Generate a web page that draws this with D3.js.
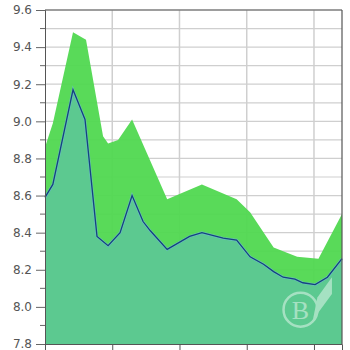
<!DOCTYPE html>
<html><head><meta charset="utf-8">
<script src="https://cdn.jsdelivr.net/npm/d3@7"></script>
<style>html,body{margin:0;padding:0;background:#fff;}</style>
</head><body><svg id="c" width="350" height="350"></svg>
<script>
// x positions (arbitrary time units)
const upperX = [0, 0.7, 2.5, 3.66, 5.18, 5.63, 6.52, 7.77, 10.9, 14.0, 17.1, 18.3, 20.4, 22.5, 24.4, 26.5];
const upperY = [8.86, 8.99, 9.48, 9.44, 8.92, 8.88, 8.90, 9.01, 8.58, 8.66, 8.58, 8.51, 8.32, 8.27, 8.26, 8.50];
const lowerX = [0, 0.7, 2.5, 3.57, 4.64, 5.63, 6.7, 7.77, 8.75, 9.4, 10.9, 12.9, 14.0, 15.9, 17.1, 18.3, 19.5, 20.4, 21.25, 22.3, 23.0, 24.1, 25.2, 26.5];
const lowerY = [8.59, 8.66, 9.17, 9.01, 8.38, 8.33, 8.40, 8.60, 8.46, 8.41, 8.31, 8.38, 8.40, 8.37, 8.36, 8.27, 8.23, 8.19, 8.16, 8.15, 8.13, 8.12, 8.16, 8.26];
const yTicks = [7.8, 8.0, 8.2, 8.4, 8.6, 8.8, 9.0, 9.2, 9.4, 9.6];
const xTicks = [0, 6, 12, 18, 24];

const svg = d3.select("#c");
const L = 45, R = 342, T = 10, B = 344;
const x = d3.scaleLinear().domain([0, 26.5]).range([L, R]);
const y = d3.scaleLinear().domain([7.8, 9.6]).range([B, T]);
const minor = d3.range(78, 97).map(v => v / 10);

// gridlines
svg.append("g").selectAll("line").data(minor).join("line")
  .attr("x1", L).attr("x2", R).attr("y1", d => y(d)).attr("y2", d => y(d))
  .attr("stroke", "#cfcfcf").attr("stroke-width", 1.2);
svg.append("g").selectAll("line").data(xTicks.slice(1)).join("line")
  .attr("y1", T).attr("y2", B).attr("x1", d => x(d)).attr("x2", d => x(d))
  .attr("stroke", "#cfcfcf").attr("stroke-width", 1.5);

const up = upperX.map((v, i) => [v, upperY[i]]);
const lo = lowerX.map((v, i) => [v, lowerY[i]]);
const area = d3.area().x(d => x(d[0])).y0(y(7.8)).y1(d => y(d[1]));
svg.append("path").datum(up).attr("d", area).attr("fill", "#50d850").attr("opacity", 0.95);
svg.append("path").datum(lo).attr("d", area).attr("fill", "#5dc893").attr("opacity", 0.96);
svg.append("path").datum(lo).attr("d", d3.line().x(d => x(d[0])).y(d => y(d[1])))
  .attr("fill", "none").attr("stroke", "#6fb8e0").attr("stroke-width", 2.6).attr("opacity", 0.6);
svg.append("path").datum(lo).attr("d", d3.line().x(d => x(d[0])).y(d => y(d[1])))
  .attr("fill", "none").attr("stroke", "#14437f").attr("stroke-width", 1.3);

// watermark
const wm = svg.append("g").attr("opacity", 0.45);
wm.append("circle").attr("cx", x(22.8)).attr("cy", y(7.985)).attr("r", 17)
  .attr("fill", "none").attr("stroke", "#fff").attr("stroke-width", 2.5);
wm.append("text").attr("x", x(22.8)).attr("y", y(7.985) + 9).attr("text-anchor", "middle")
  .attr("font-family", "Liberation Serif, serif").attr("font-size", 26).attr("fill", "#fff").text("B");
wm.append("path").attr("d", `M${x(23.9)},${y(7.93)} L${x(25.6)},${y(8.07)} L${x(25.6)},${y(8.16)} L${x(24.3)},${y(8.05)} Z`)
  .attr("fill", "#fff");

// border top/right
svg.append("line").attr("x1", L).attr("x2", R).attr("y1", T).attr("y2", T).attr("stroke", "#555").attr("stroke-width", 1.2);
svg.append("line").attr("x1", R).attr("x2", R).attr("y1", T).attr("y2", B).attr("stroke", "#555").attr("stroke-width", 1.2);

// y axis
const ya = svg.append("g").attr("transform", `translate(${L},0)`)
  .call(d3.axisLeft(y).tickValues(yTicks).tickFormat(d3.format(".1f")).tickSize(9).tickPadding(4));
ya.select(".domain").attr("stroke", "#555");
ya.selectAll(".tick line").attr("stroke", "#666");
ya.selectAll("text").attr("font-family", "DejaVu Sans, sans-serif").attr("font-size", 12).attr("fill", "#555");
svg.append("g").selectAll("line").data(minor.filter(v => Math.round(v * 10) % 2 === 1)).join("line")
  .attr("x1", L - 5).attr("x2", L).attr("y1", d => y(d)).attr("y2", d => y(d)).attr("stroke", "#666");

// x axis
const xa = svg.append("g").attr("transform", `translate(0,${B})`)
  .call(d3.axisBottom(x).tickValues(xTicks).tickFormat("").tickSize(6));
xa.select(".domain").attr("stroke", "#555");
xa.selectAll(".tick line").attr("stroke", "#555");
</script></body></html>
